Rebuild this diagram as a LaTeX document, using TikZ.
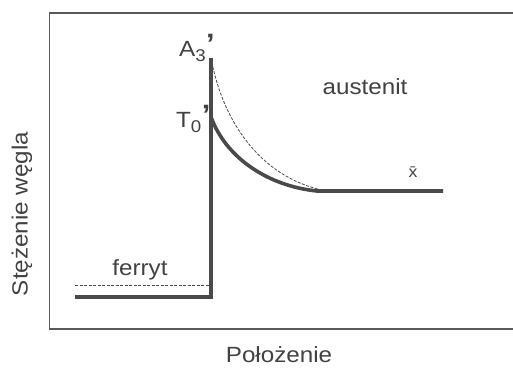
\documentclass[tikz,border=0pt]{standalone}
\usepackage{fontspec}
\setmainfont[FakeStretch=1.1]{Liberation Sans}
\newcommand{\bigprime}{\raisebox{3pt}{\fontsize{28}{28}\selectfont\bfseries ’}}
\newcommand{\subtxt}[1]{\raisebox{-5pt}{\fontsize{17}{17}\selectfont #1}}
\begin{document}
\begin{tikzpicture}[x=1pt,y=-1pt,
  lbl/.style={text=txtgray,inner sep=0pt,font=\fontsize{22}{24}\selectfont},
  thick line/.style={draw=linegray,line width=3.6pt},
  thin dash/.style={draw=linegray,line width=0.8pt,dash pattern=on 3pt off 1.5pt},
  frame/.style={draw=framegray,line width=1.6pt}]
\definecolor{txtgray}{HTML}{424242}
\definecolor{linegray}{HTML}{4A4A4A}
\definecolor{framegray}{HTML}{5A5A5A}
\useasboundingbox (0,0) rectangle (513,367);
% frame
\coordinate (tr) at (513,13);
\coordinate (tl) at (49.5,13);
\coordinate (bl) at (49.5,329);
\coordinate (br) at (513,329);
\draw[frame] (tr) -- (tl) -- (bl) -- (br);
% key points
\coordinate (f0) at (75,297);
\coordinate (f1) at (211,297);
\coordinate (a3) at (211,58);
\coordinate (t0) at (211,117);
\coordinate (j) at (317,191);
\coordinate (jd) at (327,191);
\coordinate (e) at (443,191);
\coordinate (d0) at (75,285);
\coordinate (d1) at (211,285);
% dashed lines
\draw[thin dash] (d0) -- (d1);
\draw[thin dash] (a3) .. controls (224,128) and (266,180) .. (jd);
% thick lines
\draw[thick line,line join=miter] (f0) -- (f1) -- (a3);
\draw[thick line] (t0) .. controls (226,158) and (268,186) .. (j) -- (e);
% labels
\node[lbl,anchor=base west] (A3) at (179,56) {A\subtxt{3}\kern0.5pt\bigprime};
\node[lbl,anchor=base west] (T0) at (176,127) {T\subtxt{0}\kern0.5pt\bigprime};
\node[lbl] (aus) at (365,87) {austenit};
\node[lbl] (fer) at (140,270) {ferryt};
\node[lbl,font=\fontsize{16}{16}\selectfont] (xbar) at (413,172) {\=x};
\node[lbl] (xlab) at (279,355) {Położenie};
\node[lbl,rotate=90] (ylab) at (22,214) {Stężenie węgla};
\end{tikzpicture}
\end{document}
